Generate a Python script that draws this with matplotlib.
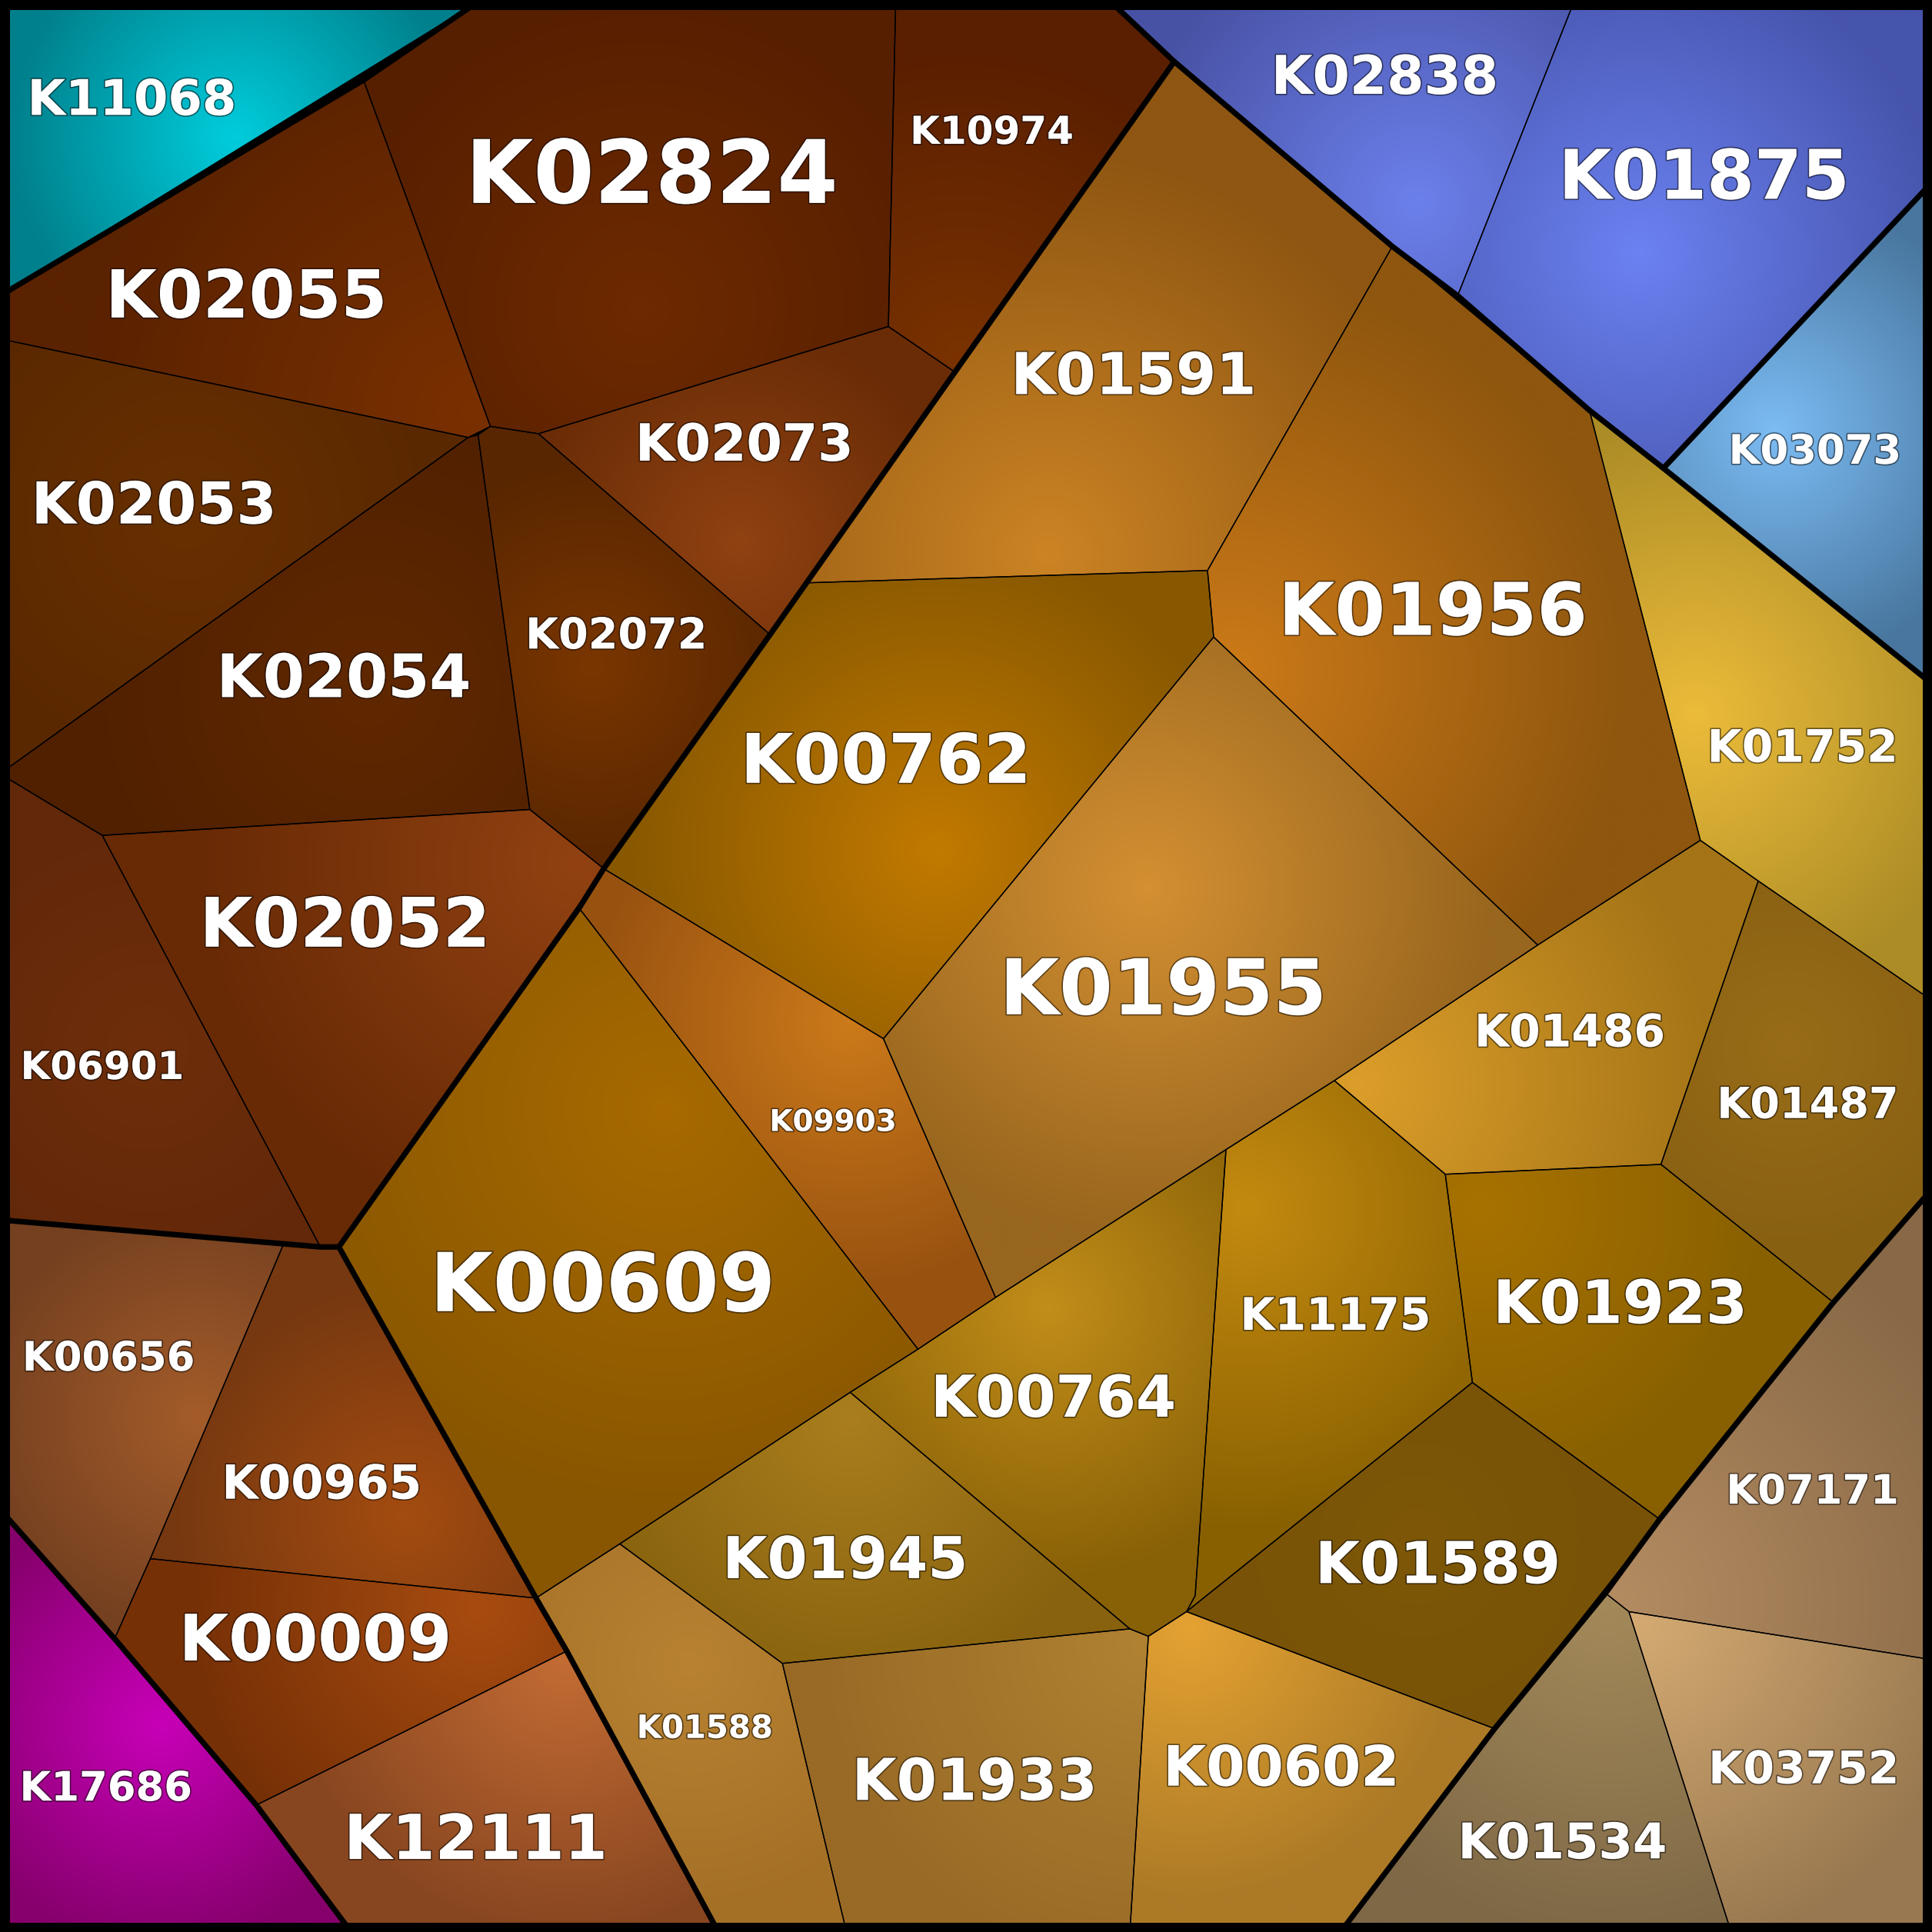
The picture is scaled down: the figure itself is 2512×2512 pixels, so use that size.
import numpy as np
import matplotlib
matplotlib.use("Agg")
import matplotlib.pyplot as plt
from matplotlib.patches import Polygon
import matplotlib.patheffects as pe
from matplotlib.colors import to_rgb

S = 1568
# cell name, polygon (picture units), edge colour, centre colour, highlight centre
cells = {
 "K11068": ([(0,0),(390,0),(0,240)], "#00808c", "#00cddc", (190,112)),
 "K02824": ([(295,65),(390,0),(727,0),(721,265),(437,352),(398,346)], "#561f00", "#6e2a00", (520,250)),
 "K10974": ([(727,0),(900,0),(953,50),(775,302),(721,265)], "#5a1f00", "#7a3200", (780,290)),
 "K02055": ([(0,240),(295,65),(398,346),(380,355),(0,275)], "#5a2200", "#7a3000", (385,335)),
 "K02073": ([(437,352),(721,265),(775,302),(625,515)], "#6a2c06", "#904212", (600,440)),
 "K02053": ([(0,275),(380,355),(0,628)], "#5a2800", "#683000", (150,420)),
 "K02054": ([(380,355),(388,353),(430,657),(83,678),(0,628)], "#502000", "#602800", (300,560)),
 "K02072": ([(388,353),(398,346),(437,352),(625,515),(490,705),(430,657)], "#582600", "#7a3600", (480,540)),
 "K02052": ([(83,678),(430,657),(490,705),(275,1012),(260,1012)], "#682a05", "#924212", (470,700)),
 "K06901": ([(0,628),(83,678),(260,1012),(0,990)], "#62280a", "#6e2e0a", (120,850)),
 "K00656": ([(0,990),(230,1010),(122,1265),(93,1330),(0,1225)], "#744020", "#a45c2a", (160,1150)),
 "K00965": ([(230,1010),(275,1012),(435,1297),(122,1265)], "#763810", "#a44c10", (330,1230)),
 "K00009": ([(122,1265),(435,1297),(460,1340),(208,1465),(93,1330)], "#763006", "#a84c10", (390,1305)),
 "K12111": ([(208,1465),(460,1340),(583,1568),(285,1568)], "#884620", "#c46c34", (460,1345)),
 "K17686": ([(0,1225),(93,1330),(208,1465),(285,1568),(0,1568)], "#86006c", "#c800b8", (130,1400)),
 "K02838": ([(900,0),(1278,0),(1183,240),(1130,200),(953,50)], "#4852a4", "#6c80ec", (1150,165)),
 "K01875": ([(1278,0),(1568,0),(1568,148),(1350,380),(1290,333),(1183,240)], "#4654ac", "#6c82f2", (1330,205)),
 "K03073": ([(1350,380),(1568,148),(1568,555)], "#48769e", "#7cbcf4", (1440,350)),
 "K01752": ([(1290,333),(1350,380),(1568,555),(1568,812),(1427,715),(1380,682)], "#ac8c26", "#ecbc3a", (1375,580)),
 "K01591": ([(953,50),(1130,200),(980,463),(655,473),(775,302)], "#8e5612", "#cc8424", (850,450)),
 "K01956": ([(1130,200),(1290,333),(1380,682),(1248,767),(985,517),(980,463)], "#8e560e", "#cc7a18", (1000,545)),
 "K00762": ([(655,473),(980,463),(985,517),(717,843),(490,705)], "#885800", "#c27a00", (760,690)),
 "K01955": ([(985,517),(1248,767),(1083,877),(995,933),(808,1053),(717,843)], "#98661e", "#d49032", (930,720)),
 "K09903": ([(490,705),(717,843),(808,1053),(745,1095),(470,737)], "#985210", "#cc7a1a", (690,830)),
 "K00609": ([(470,737),(745,1095),(690,1130),(503,1253),(435,1297),(275,1012)], "#885600", "#a86a00", (540,900)),
 "K01486": ([(1248,767),(1380,682),(1427,715),(1348,945),(1173,953),(1083,877)], "#a47416", "#dc9e2a", (1100,880)),
 "K01487": ([(1427,715),(1568,812),(1568,965),(1488,1057),(1348,945)], "#886012", "#986c18", (1450,850)),
 "K11175": ([(995,933),(1083,877),(1173,953),(1195,1122),(963,1308),(970,1295)], "#886000", "#c48a10", (1010,980)),
 "K01923": ([(1173,953),(1348,945),(1488,1057),(1347,1233),(1195,1122)], "#886000", "#a87200", (1200,980)),
 "K00764": ([(808,1053),(995,933),(970,1295),(963,1308),(932,1328),(917,1322),(690,1130),(745,1095)], "#886006", "#c28e1a", (850,1060)),
 "K01589": ([(1195,1122),(1347,1233),(1213,1403),(963,1308)], "#785206", "#7e5808", (1150,1250)),
 "K01945": ([(690,1130),(917,1322),(635,1350),(503,1253)], "#88620e", "#aa7e1e", (690,1150)),
 "K01588": ([(435,1297),(503,1253),(635,1350),(687,1568),(583,1568)], "#a47026", "#b88232", (560,1350)),
 "K01933": ([(635,1350),(917,1322),(932,1328),(917,1568),(687,1568)], "#986a26", "#b08232", (930,1335)),
 "K00602": ([(932,1328),(963,1308),(1213,1403),(1088,1568),(917,1568)], "#ac7a26", "#e4a232", (965,1320)),
 "K07171": ([(1568,965),(1568,1347),(1322,1308),(1303,1293),(1347,1233),(1488,1057)], "#886846", "#b48c62", (1310,1300)),
 "K03752": ([(1322,1308),(1568,1347),(1568,1568),(1405,1568)], "#987850", "#d4aa72", (1330,1315)),
 "K01534": ([(1303,1293),(1322,1308),(1405,1568),(1088,1568),(1213,1403)], "#7e6846", "#a48a5a", (1305,1300)),
}
# label: (x, y, font size)
labels = {
 "K11068": (107,82,23), "K02824": (529,145,41), "K10974": (805,108,18),
 "K02055": (200,243,31), "K02073": (604,362,24), "K02053": (125,412,27),
 "K02054": (279,552,28), "K02072": (500,517,20), "K02052": (280,753,32),
 "K06901": (83,867,18), "K00656": (88,1103,19), "K00965": (261,1206,22),
 "K00009": (256,1333,30), "K12111": (386,1495,29), "K17686": (86,1452,19),
 "K02838": (1124,64,25), "K01875": (1383,146,32), "K03073": (1473,367,19),
 "K01752": (1463,608,21), "K01591": (920,307,27), "K01956": (1163,499,34),
 "K00762": (719,620,32), "K01955": (944,806,36), "K09903": (676,911,14),
 "K00609": (489,1046,38), "K01486": (1274,839,21), "K01487": (1467,898,20),
 "K11175": (1084,1069,21), "K01923": (1315,1060,28), "K00764": (855,1137,27),
 "K01589": (1167,1272,27), "K01945": (686,1268,27), "K01588": (572,1403,15),
 "K01933": (791,1448,27), "K00602": (1040,1437,26), "K07171": (1471,1211,19),
 "K03752": (1464,1437,21), "K01534": (1268,1497,23),
}
# thick group boundaries
group_lines = [
 [(390,0),(295,65),(0,240)],
 [(900,0),(953,50),(1130,200),(1183,240),(1290,333),(1350,380),(1568,555)],
 [(953,50),(775,302),(625,515),(490,705),(470,737),(275,1012),(260,1012),(0,990)],
 [(275,1012),(435,1297),(460,1340),(583,1568)],
 [(0,1225),(93,1330),(208,1465),(285,1568)],
 [(1350,380),(1568,148)],
 [(1568,965),(1488,1057),(1347,1233),(1303,1293),(1213,1403),(1088,1568)],
]

fig = plt.figure(figsize=(12.56,12.56), dpi=200)
ax = fig.add_axes([0,0,1,1])
ax.set_xlim(0,S); ax.set_ylim(S,0); ax.axis("off")

for name,(poly,ec,cc,c) in cells.items():
    P = np.array(poly,float)
    x0,y0 = P.min(0); x1,y1 = P.max(0)
    xs = np.linspace(x0,x1,120); ys = np.linspace(y0,y1,120)
    X,Y = np.meshgrid(xs,ys)
    d = np.hypot(X-c[0],Y-c[1])
    dm = np.hypot(P[:,0]-c[0],P[:,1]-c[1]).max()
    t = np.clip(d/(dm*0.8),0,1)[...,None]
    img = np.array(to_rgb(cc))*(1-t)+np.array(to_rgb(ec))*t
    im = ax.imshow(img, extent=(x0,x1,y1,y0), origin="upper", interpolation="bilinear", zorder=1)
    patch = Polygon(P, closed=True, fc="none", ec="black", lw=0.5, zorder=2)
    ax.add_patch(patch)
    im.set_clip_path(patch)

for ln in group_lines:
    a = np.array(ln)
    ax.plot(a[:,0],a[:,1],color="black",lw=2.6,zorder=3,solid_capstyle="round",solid_joinstyle="round")
ax.add_patch(Polygon([(0,0),(S,0),(S,S),(0,S)],closed=True,fc="none",ec="black",lw=9,zorder=4))

for name,(x,y,fs) in labels.items():
    ax.text(x,y,name,ha="center",va="center",color="white",fontsize=fs,fontweight="bold",
            family="DejaVu Sans",zorder=5,
            path_effects=[pe.withStroke(linewidth=1.2,foreground="#00000080")])

fig.savefig("out.png",dpi=200,facecolor="black")
